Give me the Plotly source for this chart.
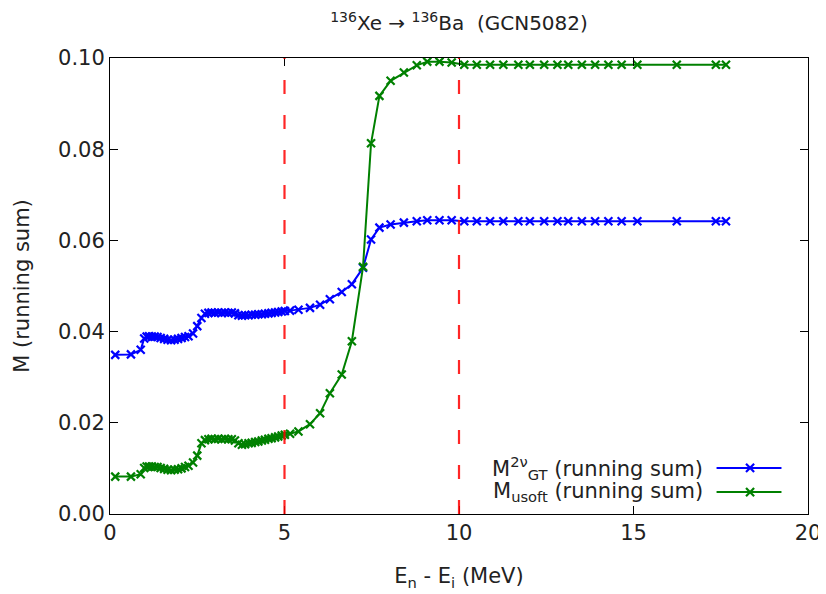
import plotly.graph_objects as go

# ---- data ----
energy = [0.15, 0.6, 0.88, 0.98, 1.05, 1.12, 1.2, 1.28, 1.36, 1.45, 1.55, 1.65, 1.75, 1.85, 1.95,
          2.05, 2.15, 2.25, 2.38, 2.5, 2.62, 2.72, 2.82, 2.91, 3.0, 3.1, 3.2, 3.29, 3.39, 3.49,
          3.58, 3.68, 3.78, 3.87, 3.97, 4.06, 4.16, 4.25, 4.35, 4.44, 4.54, 4.63, 4.73, 4.82,
          4.92, 5.01, 5.16, 5.4, 5.73, 6.02, 6.3, 6.64, 6.93, 7.25, 7.48, 7.72, 8.04, 8.42,
          8.79, 9.09, 9.44, 9.79, 10.15, 10.51, 10.89, 11.27, 11.7, 12.03, 12.44, 12.82, 13.13,
          13.52, 13.9, 14.28, 14.66, 15.11, 16.24, 17.36, 17.65]

m_gt = [0.0349, 0.0350, 0.0360, 0.0385, 0.0389, 0.0390, 0.0389, 0.0389, 0.0388, 0.0386, 0.0384,
        0.0382, 0.0381, 0.0382, 0.0384, 0.0386, 0.0388, 0.0390, 0.0396, 0.0412, 0.0430, 0.0439,
        0.0441, 0.0442, 0.0441, 0.0442, 0.0441, 0.0442, 0.0441, 0.0442, 0.0440, 0.0436, 0.0435,
        0.0436, 0.0436, 0.0437, 0.0437, 0.0438, 0.0438, 0.0439, 0.0440, 0.0441, 0.0442, 0.0443,
        0.0444, 0.0445, 0.0446, 0.0448, 0.0452, 0.0459, 0.0471, 0.0487, 0.0504, 0.0540, 0.0602,
        0.0628, 0.0635, 0.0639, 0.0642, 0.0644, 0.0644, 0.0644, 0.0642, 0.0642, 0.0642, 0.0642,
        0.0642, 0.0642, 0.0642, 0.0642, 0.0642, 0.0642, 0.0642, 0.0642, 0.0642, 0.0642, 0.0642,
        0.0642, 0.0642]

m_usoft = [0.0082, 0.0082, 0.0087, 0.0101, 0.0104, 0.0104, 0.0104, 0.0103, 0.0103, 0.0101, 0.0099,
           0.0097, 0.0096, 0.0097, 0.0098, 0.0100, 0.0103, 0.0106, 0.0113, 0.0128, 0.0155, 0.0162,
           0.0164, 0.0165, 0.0164, 0.0165, 0.0164, 0.0165, 0.0164, 0.0164, 0.0161, 0.0155, 0.0152,
           0.0153, 0.0155, 0.0156, 0.0158, 0.0159, 0.0161, 0.0163, 0.0165, 0.0166, 0.0168, 0.0170,
           0.0172, 0.0174, 0.0176, 0.0181, 0.0197, 0.0221, 0.0265, 0.0306, 0.0379, 0.0542, 0.0813,
           0.0917, 0.0950, 0.0968, 0.0984, 0.0992, 0.0992, 0.0990, 0.0985, 0.0985, 0.0985, 0.0985,
           0.0985, 0.0985, 0.0985, 0.0985, 0.0985, 0.0985, 0.0985, 0.0985, 0.0985, 0.0985, 0.0985,
           0.0985, 0.0985]

ref_lines = [5, 10]
x_ticks = [0, 5, 10, 15, 20]
y_ticks = [0.00, 0.02, 0.04, 0.06, 0.08, 0.10]

series_names = ["M<sup>2ν</sup><sub>GT</sub> (running sum)", "M<sub>usoft</sub> (running sum)"]
series_colors = ["#0000ff", "#008000"]

FONT = "DejaVu Sans"
TXT = "#222222"

fig = go.Figure()
for ys, name, col in zip([m_gt, m_usoft], series_names, series_colors):
    fig.add_trace(go.Scatter(
        x=energy, y=ys, mode="lines+markers", name=name, showlegend=False,
        line=dict(color=col, width=2),
        marker=dict(symbol="x-thin", size=8, color=col, line=dict(color=col, width=2.2)),
    ))

for xv in ref_lines:
    fig.add_vline(x=xv, line=dict(color="rgba(255,0,0,0.85)", width=2.2, dash="14px,21px"))

# gnuplot-style legend: right-aligned text, sample on the right
leg_rows = [0.101, 0.048]
for yv, name, col in zip(leg_rows, series_names, series_colors):
    fig.add_annotation(x=0.853, y=yv, xref="paper", yref="paper", text=name,
                       showarrow=False, xanchor="right", yanchor="middle",
                       font=dict(family=FONT, size=21, color=TXT))
    fig.add_shape(type="line", xref="paper", yref="paper", x0=0.869, x1=0.962, y0=yv, y1=yv,
                  line=dict(color=col, width=2))
    dx, dy = 0.0058, 0.009
    fig.add_shape(type="line", xref="paper", yref="paper", x0=0.917 - dx, x1=0.917 + dx,
                  y0=yv - dy, y1=yv + dy, line=dict(color=col, width=2.2))
    fig.add_shape(type="line", xref="paper", yref="paper", x0=0.917 - dx, x1=0.917 + dx,
                  y0=yv + dy, y1=yv - dy, line=dict(color=col, width=2.2))

axis_common = dict(showline=True, linecolor="black", linewidth=1, mirror="allticks",
                   ticks="inside", ticklen=8, tickcolor="black", showgrid=False, zeroline=False,
                   tickfont=dict(family=FONT, size=21, color=TXT))

fig.update_layout(
    width=826, height=594,
    margin=dict(l=102, r=26, t=50, b=88),
    paper_bgcolor="white", plot_bgcolor="white",
    font=dict(family=FONT, color=TXT),
    title=dict(text="<sup>136</sup>Xe → <sup>136</sup>Ba  (GCN5082)", x=0.5, xref="paper",
               y=0.974, yref="container", yanchor="middle",
               font=dict(family=FONT, size=20, color=TXT)),
    xaxis=dict(range=[0, 20], tickvals=x_ticks, ticktext=[str(v) for v in x_ticks],
               title=dict(text="E<sub>n</sub> - E<sub>i</sub> (MeV)", standoff=24,
                          font=dict(family=FONT, size=21, color=TXT)),
               **axis_common),
    yaxis=dict(range=[0, 0.1], tickvals=y_ticks, ticktext=[f"{v:.2f}" for v in y_ticks],
               title=dict(text="M (running sum)", standoff=22,
                          font=dict(family=FONT, size=21, color=TXT)),
               **axis_common),
)

fig.write_html("out.html")
